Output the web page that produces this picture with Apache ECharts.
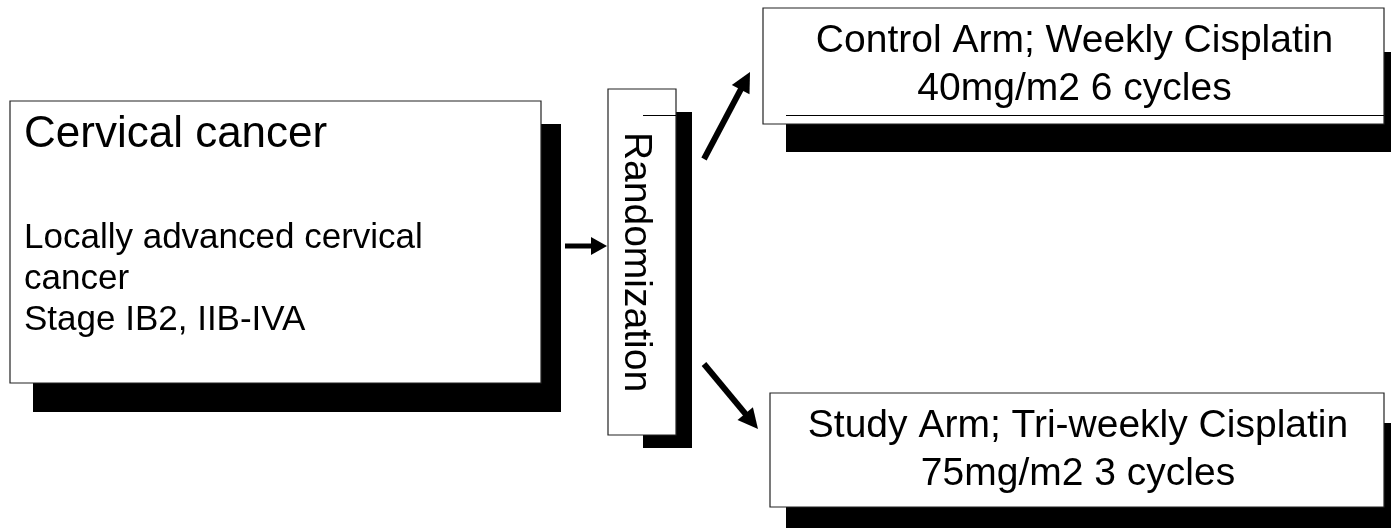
<!DOCTYPE html>
<html>
<head>
<meta charset="utf-8">
<script src="https://cdn.jsdelivr.net/npm/echarts@6/dist/echarts.min.js"></script>
<style>
  html, body { margin: 0; padding: 0; background: #fff; }
  #main { width: 1391px; height: 528px; }
</style>
</head>
<body>
<div id="main"></div>
<script>
// texts of the flow chart
var headText = 'Cervical cancer';
var detailLines = ['Locally advanced cervical', 'cancer', 'Stage IB2, IIB-IVA'];
var stepText = 'Randomization';
var armLines = [
    ['Control Arm; Weekly Cisplatin', '40mg/m2 6 cycles'],
    ['Study Arm; Tri-weekly Cisplatin', '75mg/m2 3 cycles']
];

// boxes [x0, y0, x1, y1] in page units: patients, randomization, control arm, study arm
var boxes = [[10, 101, 541, 383], [608, 89, 676, 435], [763, 8, 1384, 124], [770, 393, 1384, 507]];
var shadows = [[33, 124, 561, 412], [643, 112, 692, 448], [786, 52, 1391, 152], [786, 423, 1391, 528]];
// thin edge lines showing through the boxes
var edgeLines = [[643, 115, 676, 115], [786, 115, 1384, 115]];
// arrows [x tail, y tail, x tip, y tip]
var arrows = [[565, 246, 607, 246], [704, 159, 750, 72], [704, 364, 758, 429]];

var FONT = '"Liberation Sans", Arial, sans-serif';

var myChart = echarts.init(document.getElementById('main'));

function rectOf(api) {
    var p0 = api.coord([api.value(0), api.value(1)]);
    var p1 = api.coord([api.value(2), api.value(3)]);
    return { x: p0[0], y: p0[1], width: p1[0] - p0[0], height: p1[1] - p0[1] };
}

function txt(x, y, text, size, align, rotation) {
    return {
        type: 'text',
        x: x, y: y,
        rotation: rotation || 0,
        style: {
            text: text,
            font: size + 'px ' + FONT,
            fill: '#000',
            align: align,
            verticalAlign: 'middle'
        }
    };
}

function renderBox(params, api) {
    var r = rectOf(api);
    var children = [{
        type: 'rect',
        shape: r,
        style: { fill: '#fff', stroke: '#222', lineWidth: 1.2 }
    }];
    var i = params.dataIndex;
    if (i === 0) {
        children.push(txt(r.x + 14, r.y + 34, headText, 44, 'left'));
        detailLines.forEach(function (s, k) {
            children.push(txt(r.x + 14, r.y + 137 + k * 41, s, 35, 'left'));
        });
    } else if (i === 1) {
        children.push(txt(r.x + r.width / 2 - 6, r.y + r.height / 2, stepText, 39, 'center', -Math.PI / 2));
    } else {
        var lines = armLines[i - 2];
        children.push(txt(r.x + r.width / 2 + 1, r.y + 33, lines[0], 39, 'center'));
        children.push(txt(r.x + r.width / 2 + 1, r.y + 81, lines[1], 39, 'center'));
    }
    return { type: 'group', children: children };
}

function renderArrow(params, api) {
    var a = api.coord([api.value(0), api.value(1)]);
    var b = api.coord([api.value(2), api.value(3)]);
    var dx = b[0] - a[0], dy = b[1] - a[1];
    var len = Math.sqrt(dx * dx + dy * dy);
    var ux = dx / len, uy = dy / len;
    // the slanted arrows are drawn a bit heavier than the short one
    var diag = Math.abs(dy) > 1;
    var headLen = diag ? 20 : 16, headHalf = diag ? 10 : 9;
    var bx = b[0] - ux * headLen, by = b[1] - uy * headLen;
    return {
        type: 'group',
        children: [{
            type: 'line',
            shape: { x1: a[0], y1: a[1], x2: bx + ux * 2, y2: by + uy * 2 },
            style: { stroke: '#000', lineWidth: diag ? 6 : 5 }
        }, {
            type: 'polygon',
            shape: { points: [[b[0], b[1]], [bx - uy * headHalf, by + ux * headHalf], [bx + uy * headHalf, by - ux * headHalf]] },
            style: { fill: '#000' }
        }]
    };
}

var option = {
    animation: false,
    grid: { left: 0, right: 0, top: 0, bottom: 0 },
    xAxis: { type: 'value', min: 0, max: 1391, show: false },
    yAxis: { type: 'value', min: 0, max: 528, inverse: true, show: false },
    series: [
        {
            type: 'custom',
            name: 'shadows',
            clip: false,
            data: shadows,
            renderItem: function (params, api) {
                return { type: 'rect', shape: rectOf(api), style: { fill: '#000' } };
            }
        },
        {
            type: 'custom',
            name: 'boxes',
            clip: false,
            data: boxes,
            renderItem: renderBox
        },
        {
            type: 'custom',
            name: 'edges',
            clip: false,
            data: edgeLines,
            renderItem: function (params, api) {
                var a = api.coord([api.value(0), api.value(1)]);
                var b = api.coord([api.value(2), api.value(3)]);
                return {
                    type: 'line',
                    shape: { x1: a[0], y1: a[1] + 0.5, x2: b[0], y2: b[1] + 0.5 },
                    style: { stroke: '#000', lineWidth: 1 }
                };
            }
        },
        {
            type: 'custom',
            name: 'arrows',
            clip: false,
            data: arrows,
            renderItem: renderArrow
        }
    ]
};

if (option && typeof option === 'object') {
    myChart.setOption(option, true);
}
</script>
</body>
</html>
